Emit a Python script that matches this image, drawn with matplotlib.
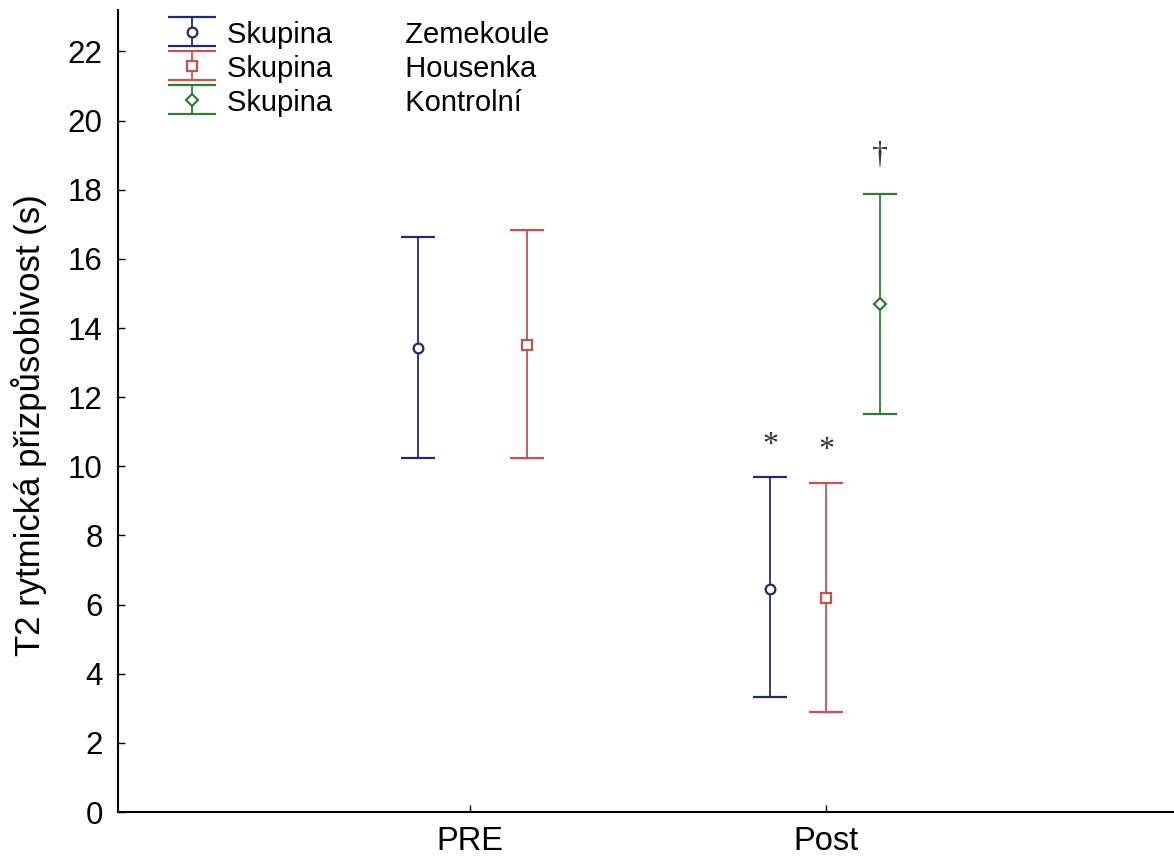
import numpy as np
import matplotlib.pyplot as plt

plt.rcParams["font.family"] = ["Liberation Sans", "DejaVu Sans"]

# categories on the x axis and groups
times = ["PRE", "Post"]
groups = ["Zemekoule", "Housenka", "Kontrolní"]
colors = ["#1f2b6e", "#c4524f", "#2f7a35"]
markers = ["o", "s", "D"]

means = {
    "Zemekoule": [13.42, 6.45],
    "Housenka": [13.52, 6.2],
    "Kontrolní": [np.nan, 14.7],
}
lower = {
    "Zemekoule": [10.25, 3.32],
    "Housenka": [10.25, 2.9],
    "Kontrolní": [np.nan, 11.5],
}
upper = {
    "Zemekoule": [16.63, 9.68],
    "Housenka": [16.85, 9.52],
    "Kontrolní": [np.nan, 17.88],
}
offsets = {
    "Zemekoule": [-0.146, -0.157],
    "Housenka": [0.16, 0.0],
    "Kontrolní": [0.0, 0.152],
}

# significance marks: (time index, group, label, y)
marks = [(1, "Zemekoule", "*", 10.6), (1, "Housenka", "*", 10.45), (1, "Kontrolní", "†", 19.0)]

fig = plt.figure(figsize=(11.74, 8.59), dpi=100)
ax = fig.add_axes([118 / 1174, 1 - 812 / 859, (3 - 0.011) * 356 / 1174, (812 - 10) / 859])

x = np.arange(1, len(times) + 1)
handles = []
for g, c, m in zip(groups, colors, markers):
    mu = np.array(means[g])
    lo = mu - np.array(lower[g])
    hi = np.array(upper[g]) - mu
    xs = x + np.array(offsets[g])
    ms = 7 if m != "D" else 6
    ax.errorbar(xs, mu, yerr=[lo, hi], fmt=m, color=c, ecolor=c, mfc="white", mec=c,
                ms=ms, mew=1.6, elinewidth=1.3, capsize=12.5, capthick=1.3)
    # proxy for the legend with wider caps
    h = ax.errorbar([np.nan], [np.nan], yerr=[[1], [1]], fmt=m, color=c, ecolor=c, mfc="white",
                    mec=c, ms=ms, mew=1.6, elinewidth=1.3, capsize=17, capthick=1.3)
    handles.append(h)

for ti, g, lab, yv in marks:
    xv = x[ti] + offsets[g][ti]
    ax.text(xv, yv, lab, ha="center", va="center", fontsize=23,
            family=["Liberation Serif", "DejaVu Serif"], color="#333333")

ax.set_xlim(0.011, 3)
ax.set_ylim(0, 23.2)
ax.set_yticks(np.arange(0, 23, 2))
ax.set_xticks(x)
ax.set_xticklabels(times)
ax.tick_params(direction="in", length=5, width=1.0, pad=11)
ax.tick_params(axis="y", labelsize=22.5)
ax.tick_params(axis="x", labelsize=23.5, pad=10)
for s in ["top", "right"]:
    ax.spines[s].set_visible(False)
for s in ["left", "bottom"]:
    ax.spines[s].set_linewidth(1.5)

ax.set_ylabel("T2 rytmická přizpůsobivost (s)", fontsize=25)
ax.yaxis.set_label_coords(-0.067, 0.4825)

labels = [f"Skupina{' ' * 9}{g}" for g in groups]
ax.legend(handles, labels, loc="upper left", bbox_to_anchor=(0.033, 1.005), frameon=False,
          fontsize=21, handlelength=1.7, handleheight=0.9, handletextpad=0.35,
          labelspacing=0.2, borderpad=0.0)

fig.savefig("out.png", dpi=100)
